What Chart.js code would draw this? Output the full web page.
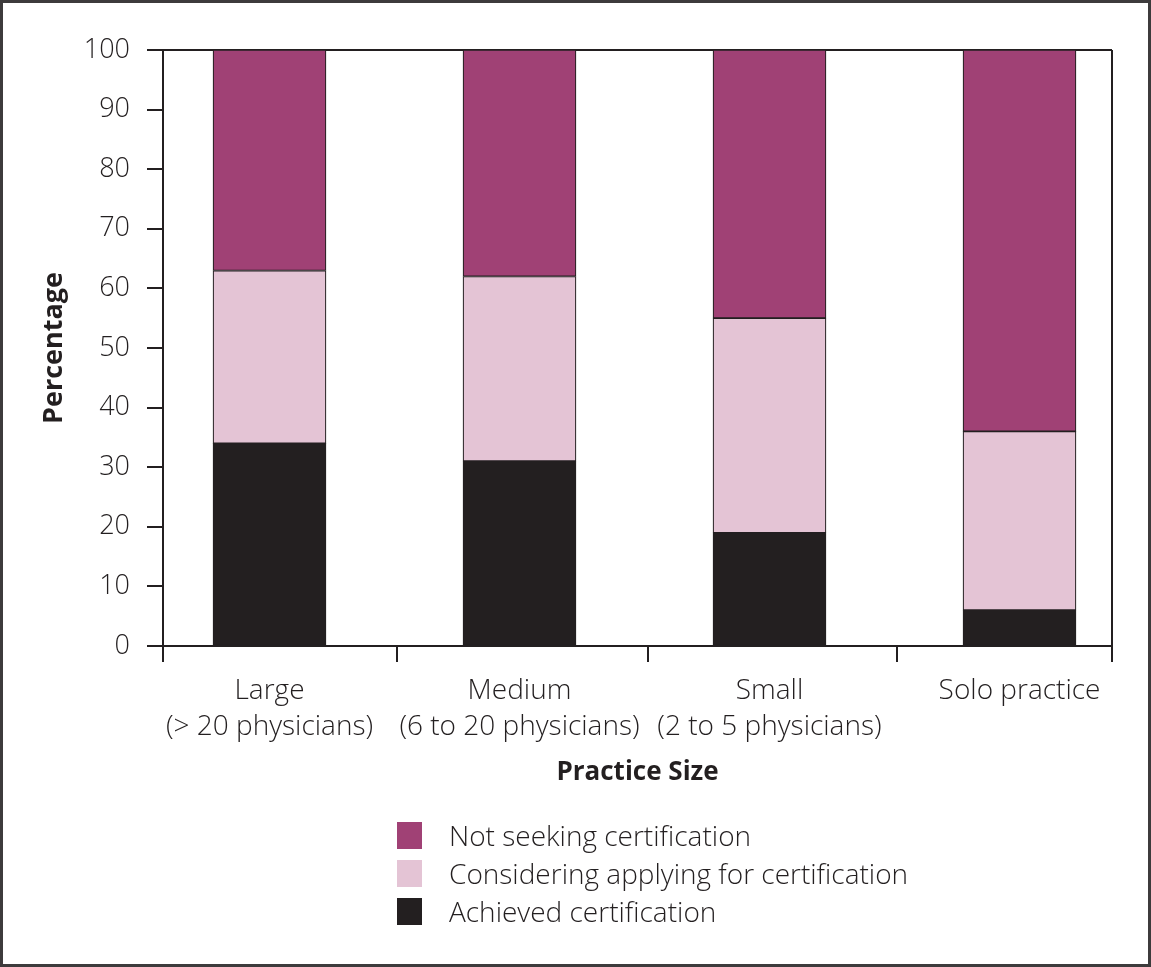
<!DOCTYPE html>
<html>
<head>
<meta charset="utf-8">
<script src="https://cdn.jsdelivr.net/npm/chart.js@4.4.1/dist/chart.umd.min.js"></script>
<style>
  html, body { margin: 0; padding: 0; background: #fff; }
  #pagina { position: relative; width: 1151px; height: 967px; overflow: hidden; }
  #grafico { position: absolute; left: 0; top: 0; }
  #moldura { position: absolute; inset: 0; border: 3px solid #3d3b3c; box-sizing: border-box; pointer-events: none; }
  #legenda { position: absolute; left: 397px; top: 816px; font-family: "Open Sans", sans-serif; font-weight: 300; font-size: 28px; color: #231f20; }
  #legenda .item { display: flex; align-items: center; height: 38px; }
  #legenda .caixa { width: 25px; height: 27px; margin-right: 27px; }
</style>
</head>
<body>
<div id="pagina">
  <canvas id="grafico" width="1151" height="967"></canvas>
  <div id="legenda"></div>
  <div id="moldura"></div>
</div>
<script>
// dados
const categorias = [
  ['Large', '(> 20 physicians)'],
  ['Medium', '(6 to 20 physicians)'],
  ['Small', '(2 to 5 physicians)'],
  'Solo practice'
];
const alcancada = [34, 31, 19, 6];
const considerando = [29, 31, 36, 30];
const naoBusca = [37, 38, 45, 64];
const ticksY = [0, 10, 20, 30, 40, 50, 60, 70, 80, 90, 100];

const escuro = '#231f20';
const xMin = -0.426;
const xMax = 3.37;
// separadores entre categorias (marcas abaixo do eixo x)
const separadores = [0.508, 1.514, 2.51];

const pontos = valores => valores.map((v, i) => ({ x: i, y: v }));

const ctx = document.getElementById('grafico').getContext('2d');
const chart = new Chart(ctx, {
  type: 'bar',
  data: {
    datasets: [
      { label: 'Achieved certification', data: pontos(alcancada), backgroundColor: escuro },
      { label: 'Considering applying for certification', data: pontos(considerando), backgroundColor: '#e4c4d5' },
      { label: 'Not seeking certification', data: pontos(naoBusca), backgroundColor: '#a04175' }
    ]
  },
  options: {
    responsive: false,
    animation: false,
    layout: { padding: { left: 38, top: 50, right: 39, bottom: 179 } },
    datasets: {
      bar: { barThickness: 113, borderColor: escuro, borderWidth: 1.2, borderSkipped: false }
    },
    plugins: {
      legend: { display: false },
      tooltip: { enabled: false }
    },
    scales: {
      x: {
        type: 'linear',
        stacked: true,
        offset: false,
        min: xMin,
        max: xMax,
        afterBuildTicks: escala => {
          const valores = [xMin, 0, 1, 2, 3, xMax, ...separadores].sort((a, b) => a - b);
          escala.ticks = valores.map(v => ({ value: v }));
        },
        afterFit: escala => { escala.height = 142; },
        border: { display: true, color: escuro, width: 2 },
        grid: {
          drawOnChartArea: true,
          offset: false,
          lineWidth: 2,
          tickLength: 16,
          color: c => (c.tick && c.tick.value === xMax) ? escuro : 'transparent',
          tickColor: c => (c.tick && Number.isInteger(c.tick.value)) ? 'transparent' : escuro
        },
        ticks: {
          autoSkip: false,
          maxRotation: 0,
          minRotation: 0,
          padding: 11,
          color: escuro,
          font: { family: 'Open Sans', size: 28, weight: 300, lineHeight: 1.28 },
          callback: valor => Number.isInteger(valor) ? categorias[valor] : ''
        },
        title: {
          display: true,
          text: 'Practice Size',
          color: escuro,
          padding: 0,
          font: { family: 'Open Sans', size: 26, weight: 'bold', lineHeight: 1.2 }
        }
      },
      y: {
        stacked: true,
        min: 0,
        max: 100,
        afterBuildTicks: escala => {
          escala.ticks = ticksY.map(v => ({ value: v }));
        },
        afterFit: escala => { escala.width = 125; },
        border: { display: true, color: escuro, width: 2 },
        grid: {
          lineWidth: 2,
          tickLength: 16,
          color: c => (c.tick && c.tick.value === 100) ? escuro : 'transparent',
          tickColor: escuro
        },
        ticks: {
          padding: 17,
          color: escuro,
          font: { family: 'Open Sans', size: 27, weight: 300 }
        },
        title: {
          display: true,
          text: 'Percentage',
          color: escuro,
          padding: 0,
          font: { family: 'Open Sans', size: 27, weight: 'bold', lineHeight: 1.2 }
        }
      }
    }
  }
});

// Legenda vertical, na ordem inversa do empilhamento
function montarLegenda() {
  const legenda = document.getElementById('legenda');
  const itens = chart.data.datasets.slice().reverse();
  legenda.innerHTML = itens.map(ds => `
    <div class="item"><span class="caixa" style="background:${ds.backgroundColor}"></span>${ds.label}</div>
  `).join('');
}
montarLegenda();
</script>
</body>
</html>
